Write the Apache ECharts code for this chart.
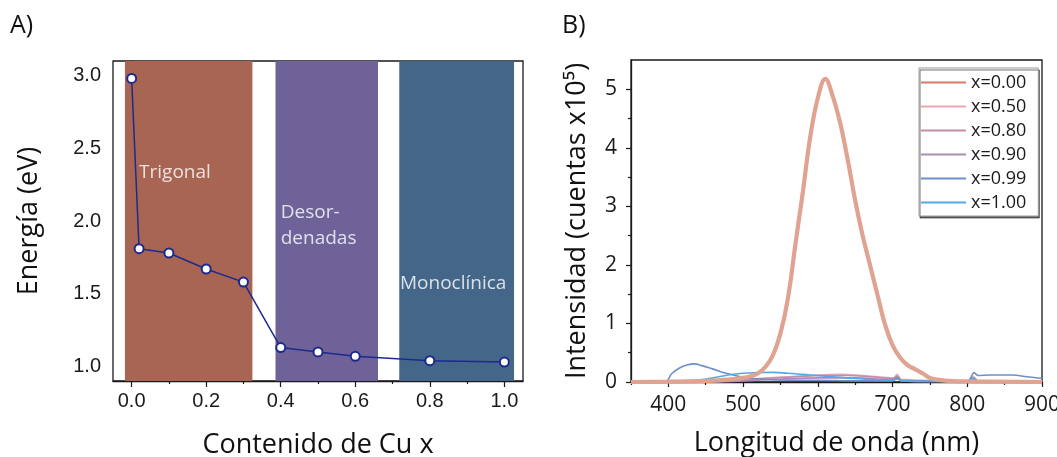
<!DOCTYPE html>
<html>
<head>
<meta charset="utf-8">
<script src="https://cdn.jsdelivr.net/npm/echarts@6/dist/echarts.min.js"></script>
<style>
html,body{margin:0;padding:0;background:#fff;}
#c{width:1057px;height:457px;}
</style>
</head>
<body>
<div id="c"></div>
<script>
// ---------- Panel A data ----------
const cuContent = [0.0, 0.02, 0.1, 0.2, 0.3, 0.4, 0.5, 0.6, 0.8, 1.0];
const bandGap   = [2.98, 1.81, 1.78, 1.67, 1.58, 1.13, 1.10, 1.07, 1.04, 1.03];
const phaseNames  = ['Trigonal', 'Desor-\ndenadas', 'Monoclínica'];
const phaseStart  = [-0.018, 0.386, 0.718];
const phaseEnd    = [0.324, 0.661, 1.026];
const phaseColors = ['#a96553', '#6f6299', '#446789'];
const phaseLabelX = [0.02, 0.40, 0.72];
const phaseLabelY = [2.33, 1.965, 1.57];
const aMajorX = [0, 0.2, 0.4, 0.6, 0.8, 1.0];
const aMinorX = [0.1, 0.3, 0.5, 0.7, 0.9];
const aMajorY = [1.0, 1.5, 2.0, 2.5, 3.0];
const aMinorY = [1.25, 1.75, 2.25, 2.75];

// ---------- Panel B data ----------
const wl000  = [350,400,450,480,500,510,520,530,540,550,560,570,580,590,600,610,620,630,640,650,660,670,680,690,700,710,720,730,740,750,760,780,800,900];
const int000 = [0,0.005,0.02,0.04,0.07,0.1,0.15,0.26,0.46,0.83,1.43,2.35,3.25,4.2,4.85,5.18,4.88,4.42,3.8,3.1,2.5,1.99,1.48,0.98,0.63,0.42,0.29,0.22,0.15,0.07,0.04,0.015,0.01,0];
const wl050  = [350,440,480,520,560,600,630,660,690,702,706,712,740,780,800,808,815,900];
const int050 = [0,0,0.03,0.06,0.09,0.12,0.13,0.11,0.08,0.07,0.13,0.04,0.03,0.02,0.02,0.09,0.02,0.01];
const wl080  = [350,450,490,530,570,610,640,670,700,706,712,760,800,808,815,900];
const int080 = [0,0,0.03,0.06,0.09,0.11,0.11,0.09,0.06,0.1,0.03,0.02,0.02,0.06,0.01,0];
const wl090  = [350,460,500,550,600,650,700,706,712,760,800,808,815,900];
const int090 = [0,0,0.02,0.05,0.07,0.07,0.04,0.08,0.02,0.01,0.01,0.05,0.01,0];
const wl099  = [350,395,405,415,425,435,445,460,480,500,520,560,600,650,700,706,712,750,800,805,809,815,830,860,880,900];
const int099 = [0,0,0.15,0.24,0.29,0.31,0.28,0.22,0.14,0.08,0.05,0.03,0.03,0.02,0.02,0.07,0.02,0.01,0.01,0.08,0.16,0.11,0.12,0.12,0.09,0.06];
const wl100  = [350,420,440,460,480,500,520,540,560,580,600,620,650,700,706,712,750,800,808,815,900];
const int100 = [0,0,0.03,0.07,0.12,0.15,0.16,0.165,0.15,0.13,0.11,0.09,0.06,0.03,0.05,0.02,0.01,0.01,0.07,0.01,0];
const seriesNames  = ['x=0.00','x=0.50','x=0.80','x=0.90','x=0.99','x=1.00'];
const seriesColors = ['#e0a291','#eba8b3','#c58ba7','#a98bb8','#6f8fc9','#52a9e6'];
const legendColors = ['#d97a68','#eba8b3','#c58ba7','#a98bb8','#6f8fc9','#52a9e6'];
const bMajorX = [400, 500, 600, 700, 800, 900];
const bMinorX = [350, 450, 550, 650, 750, 850];
const bMajorY = [0, 1, 2, 3, 4, 5];
const bMinorY = [0.5, 1.5, 2.5, 3.5, 4.5];

const pairs = (xs, ys) => xs.map((x, i) => [x, ys[i]]);
const specWl  = [wl000, wl050, wl080, wl090, wl099, wl100];
const specInt = [int000, int050, int080, int090, int099, int100];

const FONT = 'Open Sans';
const AX = '#1a1a1a';

function majorAxis(gridIndex, min, max, majors, tickLen, labelFont, labelSize, margin, fmt, extra) {
  return Object.assign({
    type: 'value', gridIndex, min, max,
    axisLine: {show: true, lineStyle: {color: AX, width: 1.3}},
    axisTick: {show: true, length: tickLen, customValues: majors, lineStyle: {color: AX, width: 1.2}},
    axisLabel: {show: true, customValues: majors, color: '#1a1a1a', fontFamily: labelFont, fontSize: labelSize, margin, formatter: fmt},
    splitLine: {show: false}
  }, extra || {});
}
function minorAxis(gridIndex, min, max, minors, tickLen, position) {
  return {
    type: 'value', gridIndex, min, max, position,
    axisLine: {show: false},
    axisTick: {show: true, length: tickLen, customValues: minors, lineStyle: {color: AX, width: 1.2}},
    axisLabel: {show: false},
    splitLine: {show: false}
  };
}

const nameStyle = {fontFamily: FONT, fontSize: 27, color: '#111'};

const chart = echarts.init(document.getElementById('c'), null, {renderer: 'canvas'});
chart.setOption({
  animation: false,
  backgroundColor: '#fff',
  grid: [
    {left: 113, top: 61, width: 410, height: 320, show: true, borderColor: AX, borderWidth: 1.3,
      backgroundColor: 'transparent', containLabel: false, outerBoundsMode: 'none'},
    {left: 631, top: 60, width: 411, height: 322, show: true, borderColor: AX, borderWidth: 1.3,
      backgroundColor: 'transparent', containLabel: false, outerBoundsMode: 'none'}
  ],
  xAxis: [
    majorAxis(0, -0.05, 1.05, aMajorX, 6, 'Liberation Sans', 20, 10, v => v.toFixed(1),
      {position: 'bottom', name: 'Contenido de Cu x', nameLocation: 'middle', nameGap: 51, nameTextStyle: nameStyle}),
    minorAxis(0, -0.05, 1.05, aMinorX, 3, 'bottom'),
    majorAxis(1, 350, 900, bMajorX, 5, FONT, 21, 13, v => String(v),
      {position: 'bottom', name: 'Longitud de onda (nm)', nameLocation: 'middle', nameGap: 48, nameTextStyle: nameStyle}),
    minorAxis(1, 350, 900, bMinorX, 3, 'bottom')
  ],
  yAxis: [
    majorAxis(0, 0.9, 3.1, aMajorY, 6, 'Liberation Sans', 20, 12, v => v.toFixed(1),
      {position: 'left', name: 'Energía (eV)', nameLocation: 'middle', nameGap: 70, nameTextStyle: nameStyle}),
    minorAxis(0, 0.9, 3.1, aMinorY, 3, 'left'),
    majorAxis(1, 0, 5.5, bMajorY, 5, FONT, 21, 14, v => String(v),
      {position: 'left', name: 'Intensidad (cuentas x10⁵)', nameLocation: 'middle', nameGap: 40, nameTextStyle: nameStyle}),
    minorAxis(1, 0, 5.5, bMinorY, 3, 'left')
  ],
  legend: {
    data: seriesNames.map((n, i) => ({name: n, itemStyle: {color: legendColors[i]}})),
    orient: 'vertical',
    left: 919, top: 68,
    itemWidth: 45, itemHeight: 2, itemGap: 5,
    padding: [5, 12, 4, 2],
    backgroundColor: '#fff',
    borderColor: '#9a9a9a', borderWidth: 1,
    shadowColor: 'rgba(0,0,0,0.55)', shadowOffsetX: 1, shadowOffsetY: 2, shadowBlur: 0,
    textStyle: {fontFamily: FONT, fontSize: 18, lineHeight: 19, color: '#1a1a1a'},
    icon: 'rect'
  },
  graphic: [
    {type: 'text', left: 10, top: 13, style: {text: 'A)', fontFamily: FONT, fontSize: 25, fill: '#111'}},
    {type: 'text', left: 562, top: 13, style: {text: 'B)', fontFamily: FONT, fontSize: 25, fill: '#111'}}
  ],
  series: [
    {
      type: 'line', xAxisIndex: 0, yAxisIndex: 0,
      data: pairs(cuContent, bandGap),
      symbol: 'circle', symbolSize: 9,
      lineStyle: {color: '#1b2a8c', width: 1.5},
      itemStyle: {color: '#ffffff', borderColor: '#1b2a8c', borderWidth: 2},
      z: 5,
      markArea: {
        silent: true,
        data: phaseStart.map((s, i) => [
          {xAxis: s, itemStyle: {color: phaseColors[i], opacity: 1}},
          {xAxis: phaseEnd[i]}
        ])
      }
    },
    {
      type: 'scatter', xAxisIndex: 0, yAxisIndex: 0,
      data: phaseNames.map((n, i) => ({value: [phaseLabelX[i], phaseLabelY[i]], name: n})),
      symbolSize: 0, silent: true, z: 4,
      label: {show: true, position: 'right', distance: 0, formatter: p => p.name,
        color: '#fff', fontFamily: FONT, fontSize: 19, lineHeight: 26, align: 'left'}
    },
    ...seriesNames.map((n, i) => ({
      name: n, type: 'line', xAxisIndex: 2, yAxisIndex: 2,
      data: pairs(specWl[i], specInt[i]),
      symbol: 'none', smooth: 0.4,
      color: seriesColors[i],
      lineStyle: {color: seriesColors[i], width: i === 0 ? 4.2 : 1.6},
      z: i === 0 ? 4 : 3
    }))
  ]
});
</script>
</body>
</html>
